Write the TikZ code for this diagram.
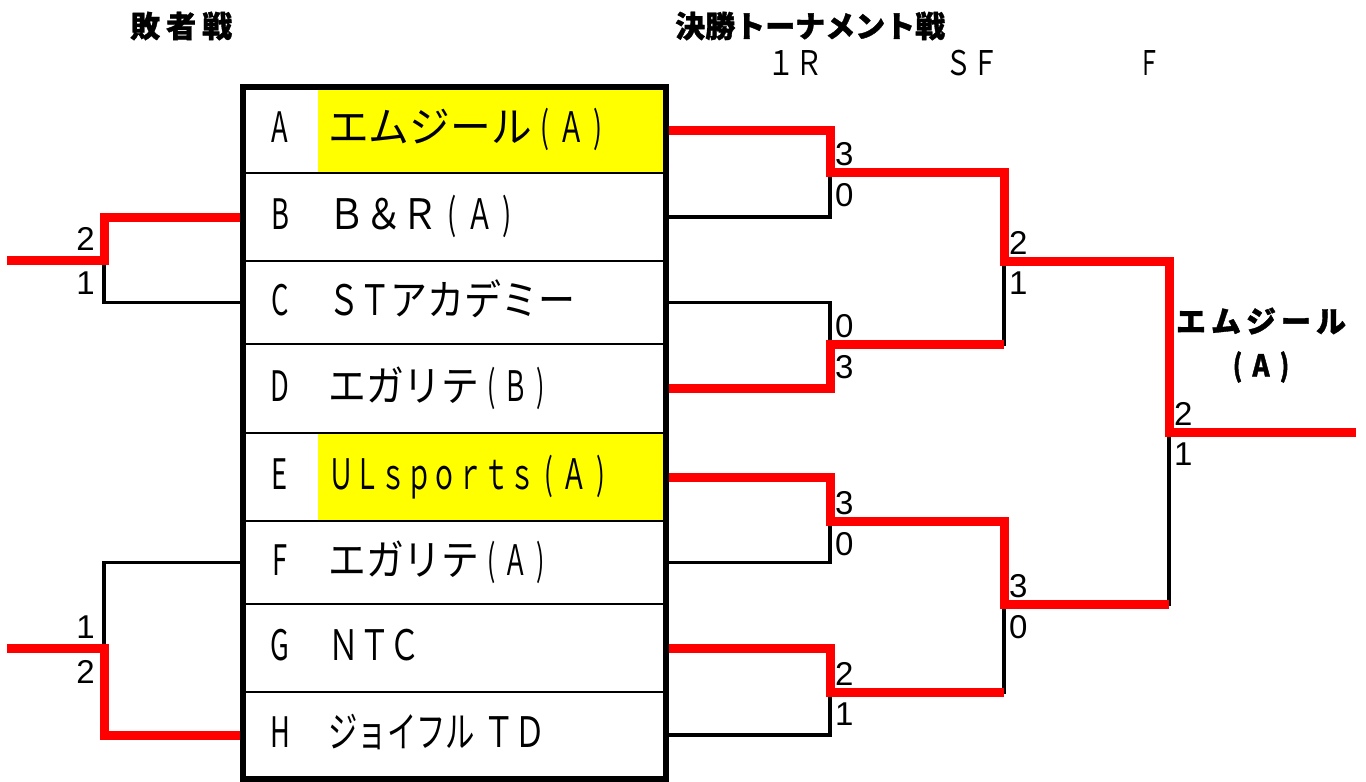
\documentclass[tikz,border=0pt]{standalone}
\usepackage{fontspec}
\usepackage{graphicx}
\newfontfamily\jp{Noto Sans CJK JP}
\newfontfamily\jn[FakeStretch=0.65]{Noto Sans CJK JP}
\newfontfamily\jh[FakeBold=1.2]{Noto Sans CJK JP}
\newfontfamily\jhn[FakeBold=1.2,FakeStretch=0.65]{Noto Sans CJK JP}
\newfontfamily\num{Liberation Sans}
\definecolor{bred}{HTML}{FF0000}
\definecolor{hyel}{HTML}{FFFF00}
\newcommand\nmx[2]{\scalebox{#1}[1]{#2}}
\newcommand\po{\makebox[0.65em][c]{(}}
\newcommand\pc{\makebox[0.65em][c]{)}}
\tikzset{
  win/.style={draw=bred, line width=9pt, line join=miter},
  lose/.style={draw=black, line width=3.5pt},
  cell/.style={minimum width=423pt, minimum height=86pt, inner sep=0pt},
  lett/.style={font=\jn\fontsize{42}{42}\selectfont, anchor=base, inner sep=0pt},
  tname/.style={font=\fontsize{42}{42}\selectfont, anchor=base west, inner sep=0pt},
  score/.style={font=\num\fontsize{33}{33}\selectfont, inner sep=0pt},
  head/.style={font=\jh\bfseries\fontsize{30}{30}\selectfont, inner sep=0pt},
  rnd/.style={font=\jn\fontsize{34}{34}\selectfont, inner sep=0pt},
  sepline/.style={draw=black, line width=1.5pt},
  frame/.style={draw=black, line width=6pt},
}
\begin{document}
\begin{tikzpicture}[x=1pt,y=-1pt]
\useasboundingbox (0,0) rectangle (1366,782);
% highlights
\fill[hyel] (318,89) rectangle (663,173);
\fill[hyel] (318,433) rectangle (663,521);
% row cells
\node[cell] (A) at (454.5,130) {};
\node[cell] (B) at (454.5,217) {};
\node[cell] (C) at (454.5,302.5) {};
\node[cell] (D) at (454.5,388.5) {};
\node[cell] (E) at (454.5,477) {};
\node[cell] (F) at (454.5,562.5) {};
\node[cell] (G) at (454.5,648) {};
\node[cell] (H) at (454.5,735) {};
% separators
\foreach \yy in {173,261,344,433,521,604,692}
  \draw[sepline] (243,\yy) -- (666,\yy);
% letters
\node[lett] (lA) at (280,142.5) {A};
\node[lett] (lB) at (280,229.5) {B};
\node[lett] (lC) at (280,315) {C};
\node[lett] (lD) at (280,401) {D};
\node[lett] (lE) at (280,489.5) {E};
\node[lett] (lF) at (280,575) {F};
\node[lett] (lG) at (280,660.5) {G};
\node[lett] (lH) at (280,747.5) {H};
% names
\node[tname] (nA) at (328,142.5) {\nmx{0.97}{{\jp エムジール}{\jn \po Ａ\pc}}};
\node[tname] (nB) at (328,229.5) {{\jn\nmx{1.35}{Ｂ＆Ｒ}\po Ａ\pc}};
\node[tname] (nC) at (328,315) {{\jn\nmx{1.15}{ＳＴ}}\nmx{0.88}{{\jp アカデミー}}};
\node[tname] (nD) at (328,401) {\nmx{0.9}{{\jp エガリテ}{\jn \po Ｂ\pc}}};
\node[tname] (nE) at (328,489.5) {\nmx{0.95}{{\jn ＵＬｓｐｏｒｔｓ\po Ａ\pc}}};
\node[tname] (nF) at (328,575) {\nmx{0.9}{{\jp エガリテ}{\jn \po Ａ\pc}}};
\node[tname] (nG) at (328,660.5) {\nmx{1.13}{{\jn ＮＴＣ}}};
\node[tname] (nH) at (328,747.5) {\nmx{0.7}{{\jp ジョイフル}}\kern8pt\nmx{1.15}{{\jn ＴＤ}}};
% headings
\node[head, anchor=west] (h1) at (130,26) {敗\kern6pt 者\kern6pt 戦};
\node[head, anchor=west] (h2) at (675,26) {決勝トーナメント戦};
\node[rnd] (r1) at (795,63) {\nmx{1.25}{１Ｒ}};
\node[rnd] (r2) at (972,63) {\nmx{1.2}{ＳＦ}};
\node[rnd] (r3) at (1150,63) {Ｆ};
% junction coordinates
\coordinate (m1) at (830,172);
\coordinate (m2) at (830,344);
\coordinate (m3) at (830,521);
\coordinate (m4) at (830,692);
\coordinate (s1) at (1004,261);
\coordinate (s2) at (1004,604);
\coordinate (fn) at (1169,432);
\coordinate (champ) at (1356,432);
\coordinate (l1) at (104,260);
\coordinate (l2) at (104,648);
\coordinate (le1) at (7,260);
\coordinate (le2) at (7,648);
% losing lines
\draw[lose] (B.east) -| (m1);
\draw[lose] (C.east) -| (m2);
\draw[lose] (m2) -| (s1);
\draw[lose] (F.east) -| (m3);
\draw[lose] (H.east) -| (m4);
\draw[lose] (m4) -| (s2);
\draw[lose] (s2) -| (fn);
\draw[lose] (C.west) -| (l1);
\draw[lose] (F.west) -| (l2);
% winning lines
\draw[win] (A.east) -| (m1) -| (s1) -| (fn) -- (champ);
\draw[win] (D.east) -| (m2) -- (m2 -| s1);
\draw[win] (E.east) -| (m3) -| (s2) -- (s2 -| fn);
\draw[win] (G.east) -| (m4) -- (m4 -| s2);
\draw[win] (B.west) -| (l1) -- (le1);
\draw[win] (H.west) -| (l2) -- (le2);
% frame
\draw[frame] (243,87) rectangle (666,778.5);
% scores
\node[score, anchor=south west, xshift=5pt, yshift=6pt] (sa1) at (m1) {3};
\node[score, anchor=north west, xshift=5pt, yshift=-11pt] (sa2) at (m1) {0};
\node[score, anchor=south west, xshift=5pt, yshift=6pt] (sb1) at (m2) {0};
\node[score, anchor=north west, xshift=5pt, yshift=-11pt] (sb2) at (m2) {3};
\node[score, anchor=south west, xshift=5pt, yshift=6pt] (sc1) at (m3) {3};
\node[score, anchor=north west, xshift=5pt, yshift=-11pt] (sc2) at (m3) {0};
\node[score, anchor=south west, xshift=5pt, yshift=6pt] (sd1) at (m4) {2};
\node[score, anchor=north west, xshift=5pt, yshift=-11pt] (sd2) at (m4) {1};
\node[score, anchor=south west, xshift=5pt, yshift=6pt] (se1) at (s1) {2};
\node[score, anchor=north west, xshift=5pt, yshift=-11pt] (se2) at (s1) {1};
\node[score, anchor=south west, xshift=5pt, yshift=6pt] (sf1) at (s2) {3};
\node[score, anchor=north west, xshift=5pt, yshift=-11pt] (sf2) at (s2) {0};
\node[score, anchor=south west, xshift=5pt, yshift=6pt] (sg1) at (fn) {2};
\node[score, anchor=north west, xshift=5pt, yshift=-11pt] (sg2) at (fn) {1};
\node[score, anchor=south east, xshift=-9pt, yshift=9pt] (sl1) at (l1) {2};
\node[score, anchor=north east, xshift=-9pt, yshift=-12pt] (sl2) at (l1) {1};
\node[score, anchor=south east, xshift=-9pt, yshift=9pt] (sl3) at (l2) {1};
\node[score, anchor=north east, xshift=-9pt, yshift=-12pt] (sl4) at (l2) {2};
% champion
\node[head, anchor=center] (w1) at (1261,321) {エ\kern5pt ム\kern5pt ジ\kern5pt ー\kern5pt ル};
\node[head, anchor=center] (w2) at (1261,367) {\jhn\bfseries\nmx{1.2}{\po Ａ\pc}};
\end{tikzpicture}
\end{document}
